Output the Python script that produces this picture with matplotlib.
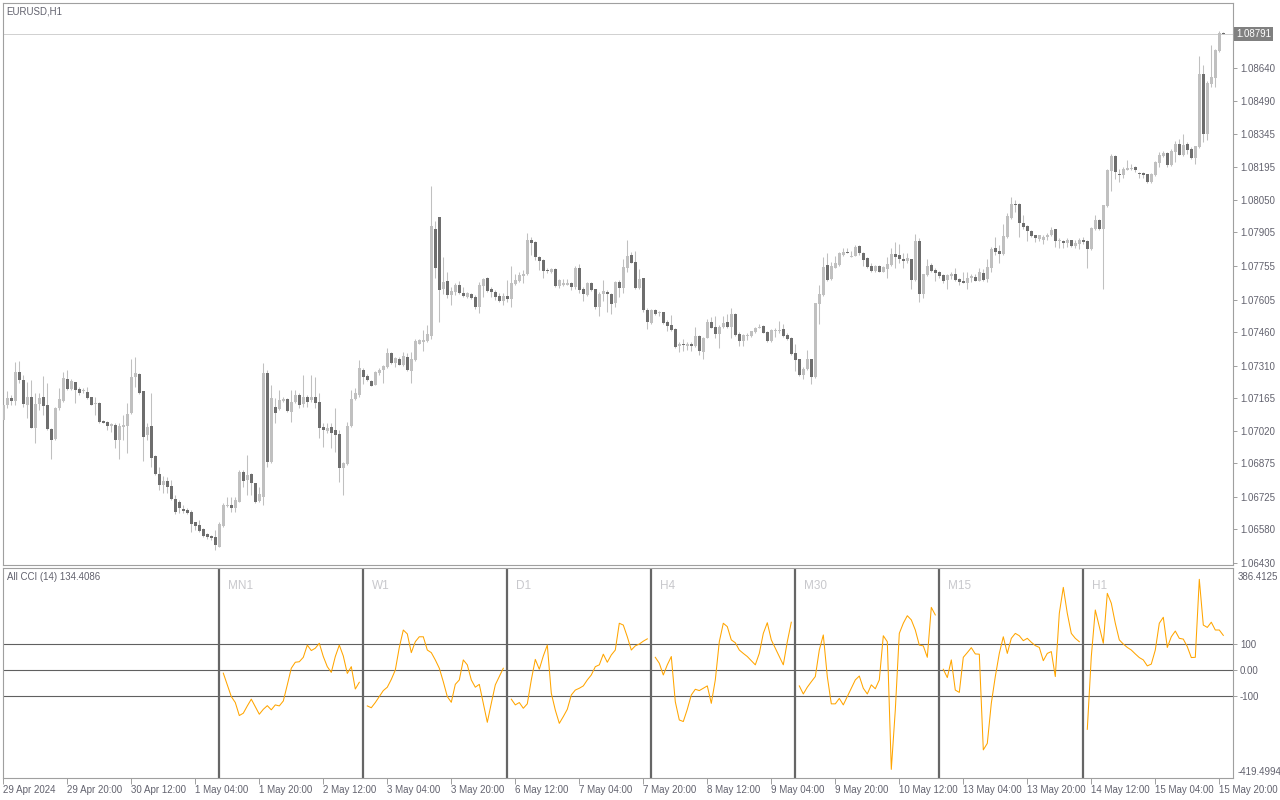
import matplotlib
matplotlib.use("Agg")
import matplotlib.pyplot as plt
import matplotlib.transforms as mtransforms
import numpy as np

plt.rcParams['font.family'] = ['Liberation Sans', 'DejaVu Sans']

# EURUSD H1 candles as shown on screen (bar 0 = leftmost)
opens = [
    1.07068, 1.07135, 1.07168, 1.07153, 1.07284, 1.07247, 1.07135, 1.07172, 1.07034, 1.07140,
    1.07169, 1.07135, 1.07026, 1.06983, 1.07120, 1.07154, 1.07250, 1.07208, 1.07236, 1.07205,
    1.07197, 1.07192, 1.07169, 1.07138, 1.07145, 1.07065, 1.07061, 1.07043, 1.07046, 1.06979,
    1.07038, 1.07043, 1.07098, 1.07258, 1.07273, 1.07195, 1.07001, 1.07041, 1.06907, 1.06827,
    1.06778, 1.06796, 1.06775, 1.06716, 1.06704, 1.06671, 1.06667, 1.06656, 1.06612, 1.06600,
    1.06582, 1.06559, 1.06551, 1.06546, 1.06503, 1.06597, 1.06686, 1.06689, 1.06677, 1.06704,
    1.06835, 1.06800, 1.06827, 1.06786, 1.06707, 1.06726, 1.07279, 1.06882, 1.07128, 1.07116,
    1.07153, 1.07160, 1.07105, 1.07147, 1.07180, 1.07138, 1.07169, 1.07157, 1.07169, 1.07150,
    1.07038, 1.07019, 1.07038, 1.07024, 1.07006, 1.06855, 1.06872, 1.07041, 1.07160, 1.07180,
    1.07293, 1.07264, 1.07243, 1.07225, 1.07279, 1.07290, 1.07305, 1.07368, 1.07323, 1.07339,
    1.07313, 1.07350, 1.07287, 1.07335, 1.07409, 1.07417, 1.07421, 1.07442, 1.07922, 1.07973,
    1.07650, 1.07688, 1.07625, 1.07640, 1.07670, 1.07636, 1.07615, 1.07630, 1.07618, 1.07573,
    1.07665, 1.07702, 1.07650, 1.07640, 1.07621, 1.07600, 1.07621, 1.07609, 1.07674, 1.07689,
    1.07710, 1.07719, 1.07870, 1.07861, 1.07796, 1.07781, 1.07737, 1.07728, 1.07741, 1.07665,
    1.07670, 1.07671, 1.07679, 1.07660, 1.07746, 1.07651, 1.07625, 1.07681, 1.07651, 1.07573,
    1.07630, 1.07637, 1.07630, 1.07591, 1.07684, 1.07657, 1.07746, 1.07803, 1.07772, 1.07657,
    1.07702, 1.07558, 1.07501, 1.07558, 1.07543, 1.07548, 1.07504, 1.07491, 1.07473, 1.07397,
    1.07406, 1.07399, 1.07406, 1.07399, 1.07442, 1.07372, 1.07434, 1.07507, 1.07482, 1.07452,
    1.07481, 1.07504, 1.07484, 1.07540, 1.07451, 1.07421, 1.07443, 1.07443, 1.07461, 1.07479,
    1.07487, 1.07461, 1.07421, 1.07466, 1.07466, 1.07473, 1.07446, 1.07434, 1.07366, 1.07339,
    1.07268, 1.07294, 1.07339, 1.07260, 1.07585, 1.07625, 1.07759, 1.07696, 1.07747, 1.07759,
    1.07803, 1.07818, 1.07796, 1.07800, 1.07845, 1.07814, 1.07791, 1.07754, 1.07732, 1.07754,
    1.07729, 1.07740, 1.07759, 1.07809, 1.07803, 1.07788, 1.07776, 1.07785, 1.07692, 1.07867,
    1.07629, 1.07714, 1.07759, 1.07736, 1.07729, 1.07714, 1.07692, 1.07710, 1.07721, 1.07696,
    1.07687, 1.07681, 1.07703, 1.07706, 1.07688, 1.07724, 1.07699, 1.07746, 1.07837, 1.07821,
    1.07809, 1.07883, 1.07971, 1.08033, 1.08033, 1.07947, 1.07933, 1.07910, 1.07892, 1.07876,
    1.07873, 1.07883, 1.07891, 1.07919, 1.07866, 1.07866, 1.07858, 1.07870, 1.07845, 1.07852,
    1.07870, 1.07866, 1.07831, 1.07919, 1.07959, 1.07919, 1.08021, 1.08179, 1.08244, 1.08167,
    1.08160, 1.08185, 1.08189, 1.08197, 1.08169, 1.08169, 1.08164, 1.08130, 1.08160, 1.08215,
    1.08246, 1.08259, 1.08204, 1.08263, 1.08298, 1.08249, 1.08298, 1.08276, 1.08237, 1.08286,
    1.08610, 1.08343, 1.08568, 1.08594, 1.08713, 1.08793,
]
highs = [
    1.07157, 1.07195, 1.07180, 1.07328, 1.07333, 1.07269, 1.07239, 1.07247, 1.07187, 1.07187,
    1.07264, 1.07232, 1.07031, 1.07128, 1.07209, 1.07281, 1.07291, 1.07250, 1.07239, 1.07217,
    1.07212, 1.07217, 1.07172, 1.07172, 1.07150, 1.07068, 1.07064, 1.07053, 1.07053, 1.07053,
    1.07090, 1.07142, 1.07340, 1.07351, 1.07276, 1.07199, 1.07053, 1.07187, 1.06912, 1.06860,
    1.06818, 1.06815, 1.06800, 1.06734, 1.06711, 1.06689, 1.06674, 1.06667, 1.06615, 1.06622,
    1.06585, 1.06563, 1.06555, 1.06577, 1.06615, 1.06696, 1.06726, 1.06726, 1.06726, 1.06845,
    1.06845, 1.06912, 1.06830, 1.06789, 1.06771, 1.07321, 1.07291, 1.07224, 1.07165, 1.07202,
    1.07172, 1.07165, 1.07202, 1.07202, 1.07187, 1.07269, 1.07180, 1.07269, 1.07261, 1.07187,
    1.07053, 1.07053, 1.07053, 1.07120, 1.07024, 1.06882, 1.07061, 1.07202, 1.07209, 1.07336,
    1.07298, 1.07273, 1.07246, 1.07287, 1.07302, 1.07313, 1.07387, 1.07372, 1.07347, 1.07350,
    1.07372, 1.07365, 1.07372, 1.07431, 1.07431, 1.07469, 1.07491, 1.08111, 1.07955, 1.07973,
    1.07793, 1.07728, 1.07662, 1.07677, 1.07688, 1.07662, 1.07640, 1.07636, 1.07625, 1.07685,
    1.07702, 1.07707, 1.07659, 1.07647, 1.07633, 1.07633, 1.07692, 1.07754, 1.07717, 1.07729,
    1.07736, 1.07903, 1.07885, 1.07866, 1.07799, 1.07784, 1.07748, 1.07747, 1.07744, 1.07695,
    1.07699, 1.07699, 1.07684, 1.07755, 1.07763, 1.07663, 1.07684, 1.07684, 1.07654, 1.07640,
    1.07691, 1.07647, 1.07633, 1.07687, 1.07691, 1.07788, 1.07870, 1.07818, 1.07821, 1.07743,
    1.07703, 1.07566, 1.07563, 1.07561, 1.07555, 1.07551, 1.07513, 1.07536, 1.07476, 1.07417,
    1.07429, 1.07417, 1.07414, 1.07484, 1.07446, 1.07439, 1.07518, 1.07528, 1.07531, 1.07491,
    1.07533, 1.07539, 1.07566, 1.07543, 1.07461, 1.07451, 1.07458, 1.07467, 1.07484, 1.07498,
    1.07491, 1.07464, 1.07473, 1.07476, 1.07509, 1.07495, 1.07454, 1.07437, 1.07406, 1.07342,
    1.07305, 1.07379, 1.07342, 1.07591, 1.07669, 1.07796, 1.07814, 1.07773, 1.07800, 1.07818,
    1.07836, 1.07833, 1.07821, 1.07848, 1.07848, 1.07818, 1.07796, 1.07766, 1.07759, 1.07759,
    1.07756, 1.07796, 1.07833, 1.07863, 1.07855, 1.07811, 1.07811, 1.07788, 1.07897, 1.07878,
    1.07721, 1.07788, 1.07766, 1.07744, 1.07732, 1.07721, 1.07717, 1.07726, 1.07747, 1.07702,
    1.07729, 1.07726, 1.07721, 1.07717, 1.07746, 1.07743, 1.07788, 1.07840, 1.07882, 1.07848,
    1.07940, 1.07989, 1.08063, 1.08048, 1.08037, 1.07984, 1.07937, 1.07915, 1.07895, 1.07895,
    1.07892, 1.07900, 1.07930, 1.07922, 1.07878, 1.07870, 1.07878, 1.07873, 1.07870, 1.07878,
    1.07882, 1.07870, 1.07930, 1.07982, 1.07963, 1.08029, 1.08189, 1.08256, 1.08249, 1.08189,
    1.08197, 1.08227, 1.08212, 1.08200, 1.08175, 1.08175, 1.08167, 1.08170, 1.08224, 1.08263,
    1.08266, 1.08263, 1.08278, 1.08311, 1.08323, 1.08342, 1.08309, 1.08286, 1.08291, 1.08690,
    1.08653, 1.08579, 1.08740, 1.08725, 1.08802, 1.08798,
]
lows = [
    1.07061, 1.07120, 1.07135, 1.07135, 1.07232, 1.07128, 1.07076, 1.07031, 1.06964, 1.07113,
    1.07090, 1.07024, 1.06893, 1.06979, 1.07113, 1.07150, 1.07202, 1.07202, 1.07142, 1.07180,
    1.07190, 1.07160, 1.07135, 1.07090, 1.07056, 1.07053, 1.07024, 1.07016, 1.06942, 1.06893,
    1.06979, 1.06919, 1.07095, 1.07217, 1.07184, 1.06887, 1.06979, 1.06860, 1.06823, 1.06756,
    1.06741, 1.06744, 1.06711, 1.06649, 1.06652, 1.06652, 1.06649, 1.06570, 1.06577, 1.06567,
    1.06548, 1.06537, 1.06533, 1.06488, 1.06500, 1.06592, 1.06681, 1.06659, 1.06659, 1.06701,
    1.06771, 1.06734, 1.06734, 1.06696, 1.06704, 1.06689, 1.06857, 1.06875, 1.07056, 1.07113,
    1.07150, 1.07105, 1.07061, 1.07142, 1.07120, 1.07128, 1.07128, 1.07150, 1.07120, 1.06986,
    1.06949, 1.07009, 1.06942, 1.06927, 1.06793, 1.06734, 1.06867, 1.07038, 1.07157, 1.07172,
    1.07228, 1.07243, 1.07219, 1.07225, 1.07268, 1.07234, 1.07302, 1.07317, 1.07305, 1.07313,
    1.07308, 1.07287, 1.07234, 1.07332, 1.07406, 1.07377, 1.07417, 1.07427, 1.07700, 1.07506,
    1.07629, 1.07610, 1.07580, 1.07625, 1.07629, 1.07618, 1.07610, 1.07606, 1.07565, 1.07543,
    1.07618, 1.07640, 1.07618, 1.07603, 1.07595, 1.07580, 1.07595, 1.07570, 1.07670, 1.07685,
    1.07680, 1.07714, 1.07803, 1.07781, 1.07737, 1.07702, 1.07725, 1.07725, 1.07659, 1.07655,
    1.07665, 1.07669, 1.07649, 1.07654, 1.07633, 1.07598, 1.07622, 1.07645, 1.07563, 1.07533,
    1.07598, 1.07548, 1.07540, 1.07573, 1.07618, 1.07633, 1.07729, 1.07766, 1.07651, 1.07654,
    1.07551, 1.07472, 1.07498, 1.07536, 1.07533, 1.07495, 1.07467, 1.07464, 1.07390, 1.07372,
    1.07375, 1.07379, 1.07375, 1.07394, 1.07357, 1.07342, 1.07432, 1.07476, 1.07432, 1.07390,
    1.07476, 1.07476, 1.07432, 1.07443, 1.07399, 1.07399, 1.07424, 1.07439, 1.07458, 1.07476,
    1.07454, 1.07417, 1.07414, 1.07439, 1.07458, 1.07439, 1.07424, 1.07357, 1.07285, 1.07265,
    1.07250, 1.07290, 1.07227, 1.07257, 1.07495, 1.07622, 1.07687, 1.07692, 1.07744, 1.07756,
    1.07799, 1.07811, 1.07796, 1.07799, 1.07806, 1.07756, 1.07748, 1.07726, 1.07729, 1.07726,
    1.07726, 1.07702, 1.07756, 1.07748, 1.07766, 1.07744, 1.07770, 1.07651, 1.07689, 1.07595,
    1.07610, 1.07711, 1.07729, 1.07687, 1.07702, 1.07677, 1.07651, 1.07699, 1.07689, 1.07669,
    1.07677, 1.07651, 1.07684, 1.07687, 1.07687, 1.07687, 1.07684, 1.07729, 1.07806, 1.07766,
    1.07803, 1.07878, 1.07966, 1.07996, 1.07885, 1.07922, 1.07866, 1.07882, 1.07860, 1.07866,
    1.07855, 1.07870, 1.07888, 1.07840, 1.07837, 1.07836, 1.07840, 1.07840, 1.07837, 1.07830,
    1.07855, 1.07748, 1.07828, 1.07915, 1.07915, 1.07654, 1.08018, 1.08090, 1.08142, 1.08129,
    1.08148, 1.08181, 1.08181, 1.08175, 1.08148, 1.08148, 1.08127, 1.08125, 1.08157, 1.08197,
    1.08241, 1.08197, 1.08201, 1.08219, 1.08249, 1.08246, 1.08256, 1.08234, 1.08212, 1.08282,
    1.08309, 1.08319, 1.08554, 1.08554, 1.08710, 1.08789,
]
closes = [
    1.07135, 1.07165, 1.07154, 1.07284, 1.07247, 1.07140, 1.07172, 1.07034, 1.07140, 1.07165,
    1.07132, 1.07026, 1.06979, 1.07120, 1.07160, 1.07254, 1.07208, 1.07244, 1.07202, 1.07190,
    1.07202, 1.07165, 1.07135, 1.07145, 1.07061, 1.07056, 1.07043, 1.07050, 1.06979, 1.07041,
    1.07046, 1.07095, 1.07261, 1.07276, 1.07190, 1.06994, 1.07038, 1.06900, 1.06827, 1.06778,
    1.06797, 1.06771, 1.06716, 1.06656, 1.06674, 1.06664, 1.06652, 1.06604, 1.06597, 1.06574,
    1.06552, 1.06548, 1.06542, 1.06508, 1.06604, 1.06689, 1.06689, 1.06677, 1.06711, 1.06838,
    1.06797, 1.06823, 1.06786, 1.06704, 1.06738, 1.07276, 1.06882, 1.07165, 1.07101, 1.07157,
    1.07160, 1.07110, 1.07150, 1.07180, 1.07135, 1.07169, 1.07150, 1.07169, 1.07142, 1.07034,
    1.07024, 1.07034, 1.07012, 1.07001, 1.06855, 1.06878, 1.07041, 1.07160, 1.07190, 1.07299,
    1.07261, 1.07246, 1.07221, 1.07280, 1.07290, 1.07308, 1.07368, 1.07323, 1.07344, 1.07313,
    1.07353, 1.07290, 1.07339, 1.07419, 1.07424, 1.07424, 1.07451, 1.07933, 1.07747, 1.07647,
    1.07685, 1.07625, 1.07643, 1.07670, 1.07633, 1.07622, 1.07633, 1.07610, 1.07573, 1.07670,
    1.07696, 1.07643, 1.07640, 1.07618, 1.07600, 1.07621, 1.07609, 1.07680, 1.07692, 1.07714,
    1.07719, 1.07870, 1.07858, 1.07796, 1.07778, 1.07733, 1.07733, 1.07742, 1.07665, 1.07692,
    1.07680, 1.07680, 1.07660, 1.07746, 1.07647, 1.07630, 1.07681, 1.07647, 1.07573, 1.07630,
    1.07643, 1.07630, 1.07586, 1.07684, 1.07657, 1.07749, 1.07799, 1.07769, 1.07657, 1.07696,
    1.07558, 1.07506, 1.07558, 1.07539, 1.07551, 1.07501, 1.07488, 1.07469, 1.07394, 1.07406,
    1.07403, 1.07406, 1.07399, 1.07442, 1.07376, 1.07434, 1.07504, 1.07479, 1.07452, 1.07482,
    1.07500, 1.07484, 1.07540, 1.07446, 1.07421, 1.07446, 1.07449, 1.07464, 1.07479, 1.07482,
    1.07457, 1.07420, 1.07469, 1.07469, 1.07469, 1.07443, 1.07429, 1.07361, 1.07334, 1.07268,
    1.07297, 1.07339, 1.07260, 1.07588, 1.07628, 1.07751, 1.07692, 1.07754, 1.07769, 1.07811,
    1.07818, 1.07814, 1.07800, 1.07839, 1.07811, 1.07781, 1.07751, 1.07732, 1.07754, 1.07729,
    1.07751, 1.07763, 1.07809, 1.07796, 1.07785, 1.07779, 1.07791, 1.07692, 1.07867, 1.07629,
    1.07717, 1.07756, 1.07732, 1.07724, 1.07709, 1.07689, 1.07714, 1.07721, 1.07692, 1.07684,
    1.07680, 1.07703, 1.07711, 1.07688, 1.07729, 1.07691, 1.07751, 1.07830, 1.07818, 1.07809,
    1.07888, 1.07977, 1.08033, 1.08026, 1.07947, 1.07927, 1.07910, 1.07889, 1.07880, 1.07891,
    1.07886, 1.07895, 1.07915, 1.07867, 1.07869, 1.07857, 1.07870, 1.07845, 1.07858, 1.07870,
    1.07863, 1.07831, 1.07925, 1.07959, 1.07919, 1.08026, 1.08181, 1.08244, 1.08175, 1.08160,
    1.08186, 1.08194, 1.08194, 1.08181, 1.08166, 1.08160, 1.08130, 1.08167, 1.08219, 1.08249,
    1.08259, 1.08204, 1.08266, 1.08300, 1.08252, 1.08294, 1.08272, 1.08237, 1.08289, 1.08610,
    1.08343, 1.08571, 1.08598, 1.08717, 1.08796, 1.08791,
]

bid = 1.08791
price_ticks = [1.08640, 1.08490, 1.08345, 1.08195, 1.08050, 1.07905, 1.07755, 1.07605,
               1.07460, 1.07310, 1.07165, 1.07020, 1.06875, 1.06725, 1.06580, 1.06430]

time_labels = ["29 Apr 2024", "29 Apr 20:00", "30 Apr 12:00", "1 May 04:00", "1 May 20:00",
               "2 May 12:00", "3 May 04:00", "3 May 20:00", "6 May 12:00", "7 May 04:00",
               "7 May 20:00", "8 May 12:00", "9 May 04:00", "9 May 20:00", "10 May 12:00",
               "13 May 04:00", "13 May 20:00", "14 May 12:00", "15 May 04:00", "15 May 20:00"]
time_label_bars = [0, 16, 32, 48, 64, 80, 96, 112, 128, 144,
                   160, 176, 192, 208, 224, 240, 256, 272, 288, 304]

# All CCI (14): one block per timeframe, each block begins after a separator bar
cci_names = ["MN1", "W1", "D1", "H4", "M30", "M15", "H1"]
cci_sep_bars = [54, 90, 126, 162, 198, 234, 270]
cci_mn1 = [-11, -56, -101, -124, -174, -165, -137, -111, -140, -169, -150, -136, -152, -133,
           -137, -118, -56, 8, 31, 33, 50, 97, 76, 85, 104, 53, 14, -8, 53, 97, 55, -12, 14, -72, -46]
cci_w1 = [-137, -144, -124, -101, -78, -65, -35, 1, 88, 155, 140, 68, 110, 129, 129, 78, 68, 40,
          8, -44, -101, -123, -54, -37, 40, 21, -37, -65, -54, -127, -200, -127, -56, -24, 8]
cci_d1 = [-111, -133, -124, -146, -129, -37, 42, 4, 55, 97, -88, -153, -204, -178, -150, -95, -76,
          -69, -60, -37, -18, 14, 21, 62, 31, 59, 78, 181, 174, 129, 78, 94, 101, 112, 121]
cci_h4 = [50, 27, -18, 21, 53, -121, -191, -197, -150, -95, -73, -78, -69, -60, -127, -37, 110,
          181, 168, 117, 106, 78, 65, 53, 37, 21, 65, 142, 183, 117, 85, 53, 21, 110, 185]
cci_m30 = [-60, -91, -65, -44, -24, 78, 136, -24, -129, -129, -108, -133, -101, -69, -37, -22, -69,
           -91, -56, -71, -37, 133, 110, -381, -153, 142, 181, 210, 194, 155, 97, 94, 50, 242, 213]
cci_m15 = [4, -28, 40, -76, -85, 50, 68, 87, 63, 62, -306, -281, -127, -24, 65, 129, 65, 123, 142,
           133, 114, 123, 108, 95, 88, 37, 65, 72, -24, 219, 319, 219, 142, 123, 110]
cci_h1 = [-227, 53, 232, 168, 104, 296, 258, 181, 117, 101, 88, 78, 63, 49, 40, 17, 24, 78, 181,
          204, 88, 129, 151, 123, 120, 91, 49, 50, 350, 174, 165, 185, 155, 155, 134.4086]
cci_levels = [100, 0, -100]
cci_max, cci_min = 386.4125, -419.4994

W, H = 1280, 800
fig = plt.figure(figsize=(12.8, 8), dpi=100)
fig.patch.set_facecolor('white')


def px_axes(x0, y0, x1, y1):
    return fig.add_axes([x0 / W, 1 - y1 / H, (x1 - x0) / W, (y1 - y0) / H])


frame_c = '#a0a0a0'
text_c = '#62626e'
light = '#c0c0c0'
dark = '#6e6e6e'

ax = px_axes(3, 3, 1233, 565)
ax2 = px_axes(3, 568, 1233, 778)

o = np.array(opens)
h = np.array(highs)
l = np.array(lows)
c = np.array(closes)
x = np.arange(len(o))
up = c >= o

# candles
ax.vlines(x, l, h, color=light, lw=0.75, zorder=2)
bot = np.minimum(o, c)
hgt = np.maximum(np.abs(c - o), 0.00003)
ax.bar(x[up], hgt[up], bottom=bot[up], width=0.75, color=light, lw=0, zorder=3)
ax.bar(x[~up], hgt[~up], bottom=bot[~up], width=0.75, color=dark, lw=0, zorder=3)

ax.axhline(bid, color='#d0d0d0', lw=0.7, zorder=1)

xlim = (-0.075, 307.425)
ax.set_xlim(*xlim)
ax.set_ylim(1.06421, 1.08928)
ax.set_xticks([])
ax.yaxis.tick_right()
ax.set_yticks(price_ticks)
ax.set_yticklabels([f"{p:.5f}" for p in price_ticks])
ax.tick_params(axis='y', direction='out', length=3, width=0.7, color=frame_c,
               labelsize=7, labelcolor=text_c, pad=2)
for s in ax.spines.values():
    s.set_color(frame_c)
    s.set_linewidth(0.8)

tr = mtransforms.blended_transform_factory(ax.transAxes, ax.transData)
ax.text(1.0025, bid, f"{bid:.5f}", transform=tr, ha='left', va='center', fontsize=7,
        color='white', bbox=dict(boxstyle='square,pad=0.2', fc='#808080', ec='none'))
ax.text(0.003, 0.984, "EURUSD,H1", transform=ax.transAxes, ha='left', va='center',
        fontsize=7, color=text_c)

# CCI panel
for lv in cci_levels:
    ax2.axhline(lv, color='#606060', lw=0.8, zorder=1)

blocks = [cci_mn1, cci_w1, cci_d1, cci_h4, cci_m30, cci_m15, cci_h1]
name_tr = mtransforms.blended_transform_factory(ax2.transData, ax2.transAxes)
for name, sep, vals in zip(cci_names, cci_sep_bars, blocks):
    ax2.axvline(sep - 0.1, color='#666666', lw=1.6, zorder=2)
    xs = np.arange(sep + 1, sep + 1 + len(vals))
    ax2.plot(xs, vals, color='#ffa500', lw=0.75, zorder=3)
    ax2.text(sep + 2.2, 0.914, name, transform=name_tr, ha='left', va='center',
             fontsize=8.5, color='#c8c8cc')

ax2.set_xlim(*xlim)
ax2.set_ylim(-414.2, 393.5)
ax2.yaxis.tick_right()
ax2.set_yticks(cci_levels)
ax2.set_yticklabels(["100", "0.00", "-100"])
ax2.tick_params(axis='y', direction='out', length=3, width=0.7, color=frame_c,
                labelsize=7, labelcolor=text_c, pad=2)
ax2.text(1.0035, 0.957, f"{cci_max:.4f}", transform=ax2.transAxes, ha='left', va='center',
         fontsize=7, color=text_c)
ax2.text(1.0035, 0.029, f"{cci_min:.4f}", transform=ax2.transAxes, ha='left', va='center',
         fontsize=7, color=text_c)
ax2.text(0.003, 0.957, f"All CCI (14) {cci_h1[-1]:.4f}", transform=ax2.transAxes,
         ha='left', va='center', fontsize=7, color=text_c)

ax2.set_xticks(time_label_bars)
ax2.set_xticklabels(time_labels, ha='left')
ax2.tick_params(axis='x', direction='out', length=4, width=0.7, color=frame_c,
                labelsize=7, labelcolor=text_c, pad=1)
for s in ax2.spines.values():
    s.set_color(frame_c)
    s.set_linewidth(0.8)

fig.savefig("out.png", dpi=100, facecolor='white')
